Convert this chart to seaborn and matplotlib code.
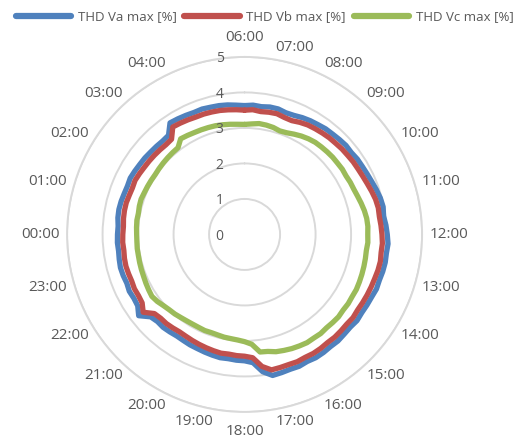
import numpy as np
import pandas as pd
import matplotlib.pyplot as plt
from matplotlib.lines import Line2D
import seaborn as sns

# categories (first one sits at the top, clockwise)
hours = ['06:00', '07:00', '08:00', '09:00', '10:00', '11:00', '12:00', '13:00',
         '14:00', '15:00', '16:00', '17:00', '18:00', '19:00', '20:00', '21:00',
         '22:00', '23:00', '00:00', '01:00', '02:00', '03:00', '04:00', '05:00']
hidden_hours = ['05:00']  # not printed in the original
r_ticks = [0, 1, 2, 3, 4, 5]

# 15 minute values, 4 per hour, starting 06:00
va = [3.63, 3.65, 3.63, 3.66, 3.66, 3.62, 3.63, 3.67, 3.70, 3.72, 3.75, 3.76,
      3.78, 3.80, 3.79, 3.82, 3.83, 3.85, 3.88, 3.92, 3.96, 3.98, 3.95, 3.99,
      4.02, 4.05, 4.03, 4.04, 4.03, 4.01, 4.02, 3.99, 3.98, 3.97, 3.99, 3.96,
      3.97, 3.99, 3.98, 4.00, 4.01, 3.99, 4.02, 4.01, 4.03, 4.05, 3.90, 3.62,
      3.56, 3.55, 3.53, 3.54, 3.52, 3.50, 3.48, 3.47, 3.45, 3.44, 3.46, 3.48,
      3.47, 3.52, 3.76, 3.62, 3.60, 3.62, 3.59, 3.61, 3.62, 3.60, 3.58, 3.59,
      3.58, 3.57, 3.60, 3.61, 3.60, 3.58, 3.57, 3.59, 3.57, 3.55, 3.54, 3.52,
      3.51, 3.50, 3.52, 3.78, 3.76, 3.74, 3.72, 3.73, 3.71, 3.70, 3.68, 3.65]
vb = [3.50, 3.52, 3.49, 3.51, 3.52, 3.48, 3.47, 3.52, 3.56, 3.58, 3.60, 3.62,
      3.63, 3.65, 3.66, 3.68, 3.69, 3.71, 3.74, 3.78, 3.82, 3.84, 3.83, 3.85,
      3.87, 3.89, 3.88, 3.90, 3.89, 3.87, 3.86, 3.85, 3.84, 3.83, 3.85, 3.83,
      3.84, 3.85, 3.84, 3.86, 3.87, 3.86, 3.88, 3.87, 3.88, 3.89, 3.75, 3.48,
      3.43, 3.42, 3.40, 3.41, 3.39, 3.37, 3.35, 3.33, 3.31, 3.30, 3.32, 3.34,
      3.34, 3.38, 3.60, 3.47, 3.45, 3.46, 3.44, 3.45, 3.46, 3.45, 3.43, 3.44,
      3.43, 3.42, 3.44, 3.45, 3.45, 3.43, 3.42, 3.44, 3.42, 3.40, 3.39, 3.38,
      3.37, 3.36, 3.38, 3.64, 3.62, 3.60, 3.58, 3.58, 3.57, 3.56, 3.54, 3.52]
vc = [3.10, 3.12, 3.15, 3.14, 3.12, 3.08, 3.10, 3.15, 3.20, 3.24, 3.27, 3.28,
      3.29, 3.30, 3.30, 3.31, 3.30, 3.32, 3.33, 3.36, 3.40, 3.44, 3.47, 3.48,
      3.47, 3.48, 3.46, 3.47, 3.48, 3.49, 3.50, 3.51, 3.50, 3.51, 3.50, 3.52,
      3.51, 3.50, 3.52, 3.51, 3.52, 3.50, 3.48, 3.45, 3.42, 3.36, 3.34, 3.10,
      3.02, 2.98, 2.96, 2.95, 2.93, 2.92, 2.93, 2.92, 2.92, 2.93, 2.95, 2.98,
      3.00, 3.04, 3.10, 3.14, 3.12, 3.10, 3.08, 3.07, 3.06, 3.05, 3.05, 3.04,
      3.04, 3.05, 3.06, 3.05, 3.07, 3.08, 3.06, 3.05, 3.04, 3.03, 3.04, 3.05,
      3.06, 3.07, 3.08, 3.24, 3.22, 3.20, 3.19, 3.18, 3.17, 3.15, 3.13, 3.11]

series_names = ['THD Va max [%]', 'THD Vb max [%]', 'THD Vc max [%]']
colors = ['#4F81BD', '#C0504D', '#9BBB59']
text_color = '#595959'
grid_color = '#D9D9D9'

sns.set_style('white')
plt.rcParams['font.family'] = ['Open Sans', 'DejaVu Sans']

n = len(va)
theta = np.linspace(0, 2 * np.pi, n, endpoint=False)
theta_closed = np.append(theta, 2 * np.pi)
frames = []
for name, vals in zip(series_names, [va, vb, vc]):
    frames.append(pd.DataFrame({'theta': theta_closed,
                                'value': vals + vals[:1],
                                'series': name}))
df = pd.concat(frames, ignore_index=True)

fig = plt.figure(figsize=(5.24, 4.42), dpi=100)
ax = fig.add_axes([0.128, 0.068, 0.6775, 0.8032], projection='polar')
ax.set_theta_zero_location('N')
ax.set_theta_direction(-1)

sns.lineplot(data=df, x='theta', y='value', hue='series', hue_order=series_names,
             palette=colors, estimator=None, sort=False, lw=3.8, legend=False,
             solid_capstyle='round', solid_joinstyle='round', ax=ax)

ax.set_ylim(0, 5)
ax.set_yticks(r_ticks[1:])
ax.set_yticklabels([])
ax.set_xticks([])
ax.set_xlabel('')
ax.set_ylabel('')
ax.yaxis.grid(True, color=grid_color, lw=1.4)
ax.spines['polar'].set_color(grid_color)
ax.spines['polar'].set_linewidth(1.4)

# radial value labels, left of the top spoke
for v in r_ticks:
    ax.annotate(str(v), xy=(0, v), xycoords='data', xytext=(-25, -2),
                textcoords='offset pixels', ha='center', va='center',
                fontsize=10, color=text_color)

# hour labels around the circle
for i, h in enumerate(hours):
    if h in hidden_hours:
        continue
    ang = 2 * np.pi * i / len(hours)
    s, c = np.sin(ang), np.cos(ang)
    d = 190 + 14 * abs(s) + (7 if abs(s) < 0.01 else 0)
    ax.annotate(h, xy=(0, 0), xycoords='data', xytext=(d * s, d * c),
                textcoords='offset pixels', ha='center', va='center',
                fontsize=11, color=text_color)

handles = [Line2D([], [], color=col, lw=4.5, solid_capstyle='round') for col in colors]
fig.legend(handles, series_names, loc='center', bbox_to_anchor=(0.505, 0.962), ncol=3,
           frameon=False, handlelength=4.2, handletextpad=0.5, columnspacing=0.6,
           fontsize=9.5, labelcolor=text_color)

fig.savefig('out.png', dpi=100)
